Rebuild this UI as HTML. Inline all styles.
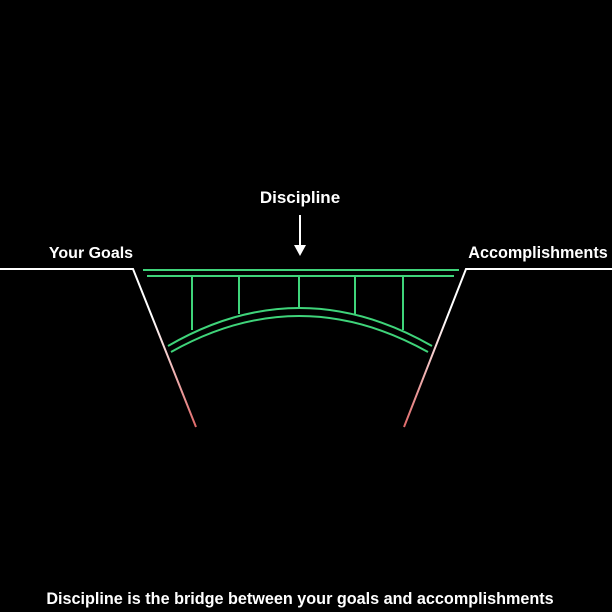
<!DOCTYPE html>
<html><head><meta charset="utf-8"><style>
body{margin:0;background:#000;width:612px;height:612px;overflow:hidden}
svg{display:block}
text{font-family:"Liberation Sans",sans-serif;font-weight:bold;fill:#fff}
</style></head><body>
<svg width="612" height="612" viewBox="0 0 612 612">
<defs>
<linearGradient id="gl" x1="133" y1="269" x2="196" y2="427" gradientUnits="userSpaceOnUse"><stop offset="0.3" stop-color="#fff"/><stop offset="1" stop-color="#e06a6a"/></linearGradient>
<linearGradient id="gr" x1="466" y1="269" x2="404" y2="427" gradientUnits="userSpaceOnUse"><stop offset="0.3" stop-color="#fff"/><stop offset="1" stop-color="#e06a6a"/></linearGradient>
</defs>
<polyline points="0,269 133,269 196,427" fill="none" stroke="url(#gl)" stroke-width="2"/>
<polyline points="612,269 466,269 404,427" fill="none" stroke="url(#gr)" stroke-width="2"/>
<g stroke="#3fd47a" stroke-width="2" fill="none">
<line x1="143" y1="270" x2="459" y2="270"/>
<line x1="147" y1="276" x2="454" y2="276"/>
<line x1="192" y1="276" x2="192" y2="330"/>
<line x1="239" y1="276" x2="239" y2="314"/>
<line x1="299" y1="276" x2="299" y2="309"/>
<line x1="355" y1="276" x2="355" y2="314"/>
<line x1="403" y1="276" x2="403" y2="330"/>
<path d="M168,346 Q299,270 432,346"/>
<path d="M171,352 Q299,280 428,352"/>
</g>
<text x="300" y="203" text-anchor="middle" font-size="17">Discipline</text>
<line x1="300" y1="215" x2="300" y2="247" stroke="#fff" stroke-width="2"/>
<polygon points="294,245 306,245 300,256" fill="#fff"/>
<text x="91" y="258" text-anchor="middle" font-size="16">Your Goals</text>
<text x="538" y="258" text-anchor="middle" font-size="16.2">Accomplishments</text>
<text x="300" y="604" text-anchor="middle" font-size="16.2">Discipline is the bridge between your goals and accomplishments</text>
</svg>
</body></html>
